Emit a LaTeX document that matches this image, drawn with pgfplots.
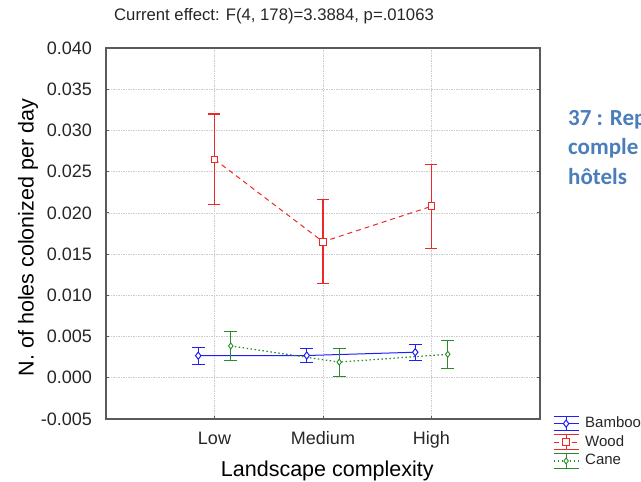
\documentclass[border=0pt]{standalone}
\usepackage{pgfplots}
\pgfplotsset{compat=1.18}
\usepackage{fontspec}
\setmainfont{Liberation Sans}
\newfontfamily\calib{Carlito}
\definecolor{cblue}{RGB}{30,30,250}
\definecolor{cred}{RGB}{238,40,40}
\definecolor{cgreen}{RGB}{40,140,40}
\definecolor{ttl}{RGB}{74,126,187}
\definecolor{axc}{RGB}{90,90,90}
\begin{document}
\begin{tikzpicture}[x=1pt,y=1pt]
\useasboundingbox (0,0) rectangle (641,-482);
\begin{axis}[
  at={(106pt,-419pt)}, anchor=south west,
  scale only axis, width=434pt, height=371pt,
  xmin=-1, xmax=3, ymin=-0.005, ymax=0.040,
  xtick={0,1,2}, xticklabels={Low,Medium,High},
  ytick={-0.005,0,0.005,0.010,0.015,0.020,0.025,0.030,0.035,0.040},
  yticklabels={-0.005,0.000,0.005,0.010,0.015,0.020,0.025,0.030,0.035,0.040},
  scaled y ticks=false,
  grid=major,
  major grid style={gray!40, dash pattern=on 1.5pt off 1pt, line width=0.6pt},
  axis line style={axc, line width=1.1pt},
  tick style={axc, line width=0.8pt}, tick align=inside, major tick length=3pt,
  xtick pos=bottom, ytick pos=both,
  ticklabel style={font=\fontsize{18}{20}\selectfont, text=black!85},
  yticklabel style={anchor=east, inner sep=0pt, xshift=-14pt},
  xticklabel style={anchor=base, inner sep=0pt, yshift=-25pt},
  xlabel={Landscape complexity},
  xlabel style={at={(axis description cs:0.51,-0.1563)}, anchor=base, inner sep=0pt, font=\fontsize{21.5}{24}\selectfont},
  ylabel={N. of holes colonized per day},
  ylabel style={at={(axis description cs:-0.167,0.489)}, anchor=base, inner sep=0pt, font=\fontsize{21.5}{24}\selectfont},
  title={Current effect: F(4, 178)=3.3884, p=.01063},
  title style={at={(axis description cs:0.0184,1.0574)}, anchor=base west, inner sep=0pt, font=\fontsize{16.7}{19}\selectfont, text=black!85},
  legend style={at={(axis description cs:1.030,0.0086)}, anchor=north west, draw=none, fill=none,
    inner sep=0pt, outer sep=0pt, row sep=3pt, column sep=6pt,
    font=\fontsize{15}{17}\selectfont, text=black!85,
    nodes={inner sep=0pt, text height=11pt, text depth=3pt}},
  legend cell align=left,
  legend image code/.code={%
    \draw[#1, mark=none] (0pt,0pt) -- (25pt,0pt);
    \draw[#1, mark=none, solid] (0pt,7.3pt) -- (25pt,7.3pt) (0pt,-7.3pt) -- (25pt,-7.3pt) (12.5pt,-7.3pt) -- (12.5pt,7.3pt);
    \draw[#1] plot[only marks] coordinates {(12.5pt,0pt)};
  },
]
\addplot[cblue, solid, line width=1pt, mark=diamond*, mark size=3.6pt, mark options={fill=white, solid},
  error bars/.cd, y dir=both, y explicit, error bar style={line width=1pt, solid},
  error mark options={rotate=90, mark size=6.5pt, line width=1pt, cblue}]
  coordinates {(-0.15,0.00268) +- (0,0.00105) (0.85,0.0027) +- (0,0.0009) (1.85,0.0031) +- (0,0.00095)};
\addlegendentry{Bamboo}
\addplot[cred, dash pattern=on 5pt off 4pt, line width=1pt, mark=square*, mark size=3.3pt, mark options={fill=white, solid},
  error bars/.cd, y dir=both, y explicit, error bar style={line width=1.2pt, solid},
  error mark options={rotate=90, mark size=6pt, line width=1.2pt, cred}]
  coordinates {(0,0.0265) +- (0,0.0055) (1,0.0165) +- (0,0.0051) (2,0.0208) +- (0,0.0051)};
\addlegendentry{Wood}
\addplot[cgreen, dash pattern=on 1.5pt off 2.5pt, line width=1.2pt, mark=diamond*, mark size=3pt, mark options={fill=white, solid, line width=0.9pt},
  error bars/.cd, y dir=both, y explicit, error bar style={line width=1.2pt, solid},
  error mark options={rotate=90, mark size=6.5pt, line width=1.2pt, cgreen}]
  coordinates {(0.15,0.00386) +- (0,0.0018) (1.15,0.0019) +- (0,0.0017) (2.15,0.00285) +- (0,0.0017)};
\addlegendentry{Cane}
\end{axis}
\node[anchor=base west, inner sep=0pt, font=\calib\bfseries\fontsize{23}{26}\selectfont, text=ttl] at (568,-125) {37 : Rep};
\node[anchor=base west, inner sep=0pt, font=\calib\bfseries\fontsize{23}{26}\selectfont, text=ttl] at (568,-154.5) {comple};
\node[anchor=base west, inner sep=0pt, font=\calib\bfseries\fontsize{23}{26}\selectfont, text=ttl] at (568,-184) {hôtels};
\end{tikzpicture}
\end{document}
